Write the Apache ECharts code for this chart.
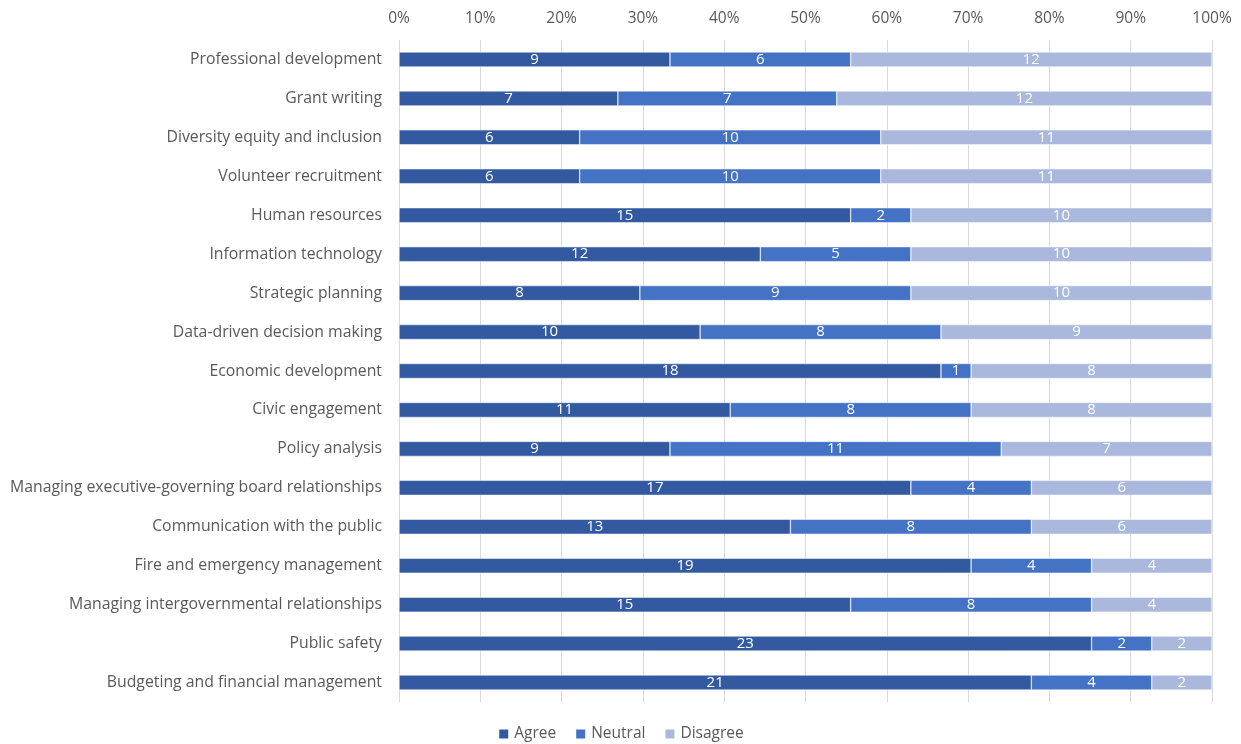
<!DOCTYPE html>
<html>
<head>
<meta charset="utf-8">
<script src="https://cdn.jsdelivr.net/npm/echarts@6/dist/echarts.min.js"></script>
<style>
  html, body { margin: 0; padding: 0; background: #fff; }
  #main { width: 1241px; height: 744px; }
</style>
</head>
<body>
<div id="main"></div>
<script>
var categories = [
    'Professional development', 'Grant writing', 'Diversity equity and inclusion',
    'Volunteer recruitment', 'Human resources', 'Information technology',
    'Strategic planning', 'Data-driven decision making', 'Economic development',
    'Civic engagement', 'Policy analysis', 'Managing executive-governing board relationships',
    'Communication with the public', 'Fire and emergency management',
    'Managing intergovernmental relationships', 'Public safety',
    'Budgeting and financial management'
];
var agree    = [9, 7, 6, 6, 15, 12, 8, 10, 18, 11, 9, 17, 13, 19, 15, 23, 21];
var neutral  = [6, 7, 10, 10, 2, 5, 9, 8, 1, 8, 11, 4, 8, 4, 8, 2, 4];
var disagree = [12, 12, 11, 11, 10, 10, 10, 9, 8, 8, 7, 6, 6, 4, 4, 2, 2];
var seriesNames = ['Agree', 'Neutral', 'Disagree'];
var colors = ['#335aa1', '#4472c4', '#a9b8dc'];

var FONT = 'Open Sans';

// 100% stacked: share of each row, label shows raw count
function share(arr) {
    var out = [];
    for (var i = 0; i < arr.length; i++) {
        var tot = agree[i] + neutral[i] + disagree[i];
        out.push({ value: arr[i] / tot * 100, count: arr[i] });
    }
    return out;
}

var raw = [agree, neutral, disagree];
var series = [];
for (var s = 0; s < 3; s++) {
    series.push({
        name: seriesNames[s],
        type: 'bar',
        stack: 'total',
        barWidth: 15,
        data: share(raw[s]),
        itemStyle: { color: colors[s], borderColor: '#fff', borderWidth: 0.5 },
        label: {
            show: true,
            position: 'inside',
            color: '#fff',
            fontFamily: FONT,
            fontSize: 15,
            formatter: function (p) { return p.data.count; }
        }
    });
}

var myChart = echarts.init(document.getElementById('main'));
var option = {
    animation: false,
    textStyle: { fontFamily: FONT },
    grid: { left: 399, right: 29, top: 40, bottom: 42, containLabel: false },
    legend: {
        data: seriesNames,
        bottom: -3,
        left: 'center',
        icon: 'rect',
        itemWidth: 11,
        itemHeight: 11,
        itemGap: 18,
        textStyle: { color: '#595959', fontSize: 15.5, fontFamily: FONT }
    },
    xAxis: {
        type: 'value',
        position: 'top',
        min: 0,
        max: 100,
        interval: 10,
        axisLine: { show: false },
        axisTick: { show: false },
        axisLabel: { formatter: '{value}%', color: '#595959', fontSize: 15.5, fontFamily: FONT, margin: 13 },
        splitLine: { lineStyle: { color: '#d9d9d9', width: 1 } }
    },
    yAxis: {
        type: 'category',
        inverse: true,
        data: categories,
        axisLine: { show: false },
        axisTick: { show: false },
        axisLabel: { color: '#595959', fontSize: 15.8, fontFamily: FONT, margin: 17 }
    },
    series: series
};
myChart.setOption(option);
</script>
</body>
</html>
